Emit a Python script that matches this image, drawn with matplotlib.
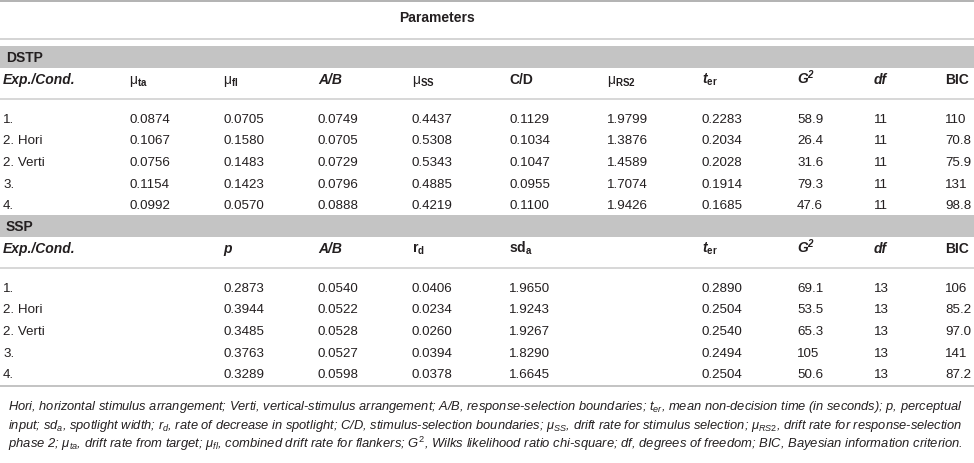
import matplotlib
matplotlib.use("Agg")
import matplotlib.pyplot as plt

plt.rcParams['font.family'] = ['Liberation Sans', 'DejaVu Sans']
plt.rcParams['mathtext.fontset'] = 'custom'
plt.rcParams['mathtext.rm'] = 'Liberation Sans'
plt.rcParams['mathtext.it'] = 'Liberation Sans:italic'
plt.rcParams['mathtext.bf'] = 'Liberation Sans:bold'
plt.rcParams['mathtext.bfit'] = 'Liberation Sans:italic:bold'
plt.rcParams['mathtext.sf'] = 'Liberation Sans'

# --- table data ---
conds = ['1.', '2. Hori', '2. Verti', '3.', '4.']

dstp_mu_ta = ['0.0874', '0.1067', '0.0756', '0.1154', '0.0992']
dstp_mu_fl = ['0.0705', '0.1580', '0.1483', '0.1423', '0.0570']
dstp_ab = ['0.0749', '0.0705', '0.0729', '0.0796', '0.0888']
dstp_mu_ss = ['0.4437', '0.5308', '0.5343', '0.4885', '0.4219']
dstp_cd = ['0.1129', '0.1034', '0.1047', '0.0955', '0.1100']
dstp_mu_rs2 = ['1.9799', '1.3876', '1.4589', '1.7074', '1.9426']
dstp_ter = ['0.2283', '0.2034', '0.2028', '0.1914', '0.1685']
dstp_g2 = ['58.9', '26.4', '31.6', '79.3', '47.6']
dstp_df = ['11', '11', '11', '11', '11']
dstp_bic = ['110', '70.8', '75.9', '131', '98.8']

ssp_p = ['0.2873', '0.3944', '0.3485', '0.3763', '0.3289']
ssp_ab = ['0.0540', '0.0522', '0.0528', '0.0527', '0.0598']
ssp_rd = ['0.0406', '0.0234', '0.0260', '0.0394', '0.0378']
ssp_sda = ['1.9650', '1.9243', '1.9267', '1.8290', '1.6645']
ssp_ter = ['0.2890', '0.2504', '0.2540', '0.2494', '0.2504']
ssp_g2 = ['69.1', '53.5', '65.3', '105', '50.6']
ssp_df = ['13', '13', '13', '13', '13']
ssp_bic = ['106', '85.2', '97.0', '141', '87.2']

# header label, weight, style
dstp_headers = [
    ('Exp./Cond.', 'bold', 'italic'),
    (r'μ$_{\mathbf{ta}}$', 'normal', 'normal'),
    (r'μ$_{\mathbf{fl}}$', 'normal', 'normal'),
    ('A/B', 'bold', 'italic'),
    (r'μ$_{\mathbf{SS}}$', 'normal', 'normal'),
    ('C/D', 'bold', 'normal'),
    (r'μ$_{\mathbf{RS2}}$', 'normal', 'normal'),
    (r'$\mathbfit{t}_{\mathbf{er}}$', 'bold', 'normal'),
    (r'$\mathbfit{G}^{\mathbfit{2}}$', 'bold', 'normal'),
    ('df', 'bold', 'italic'),
    ('BIC', 'bold', 'normal'),
]
ssp_headers = [
    ('Exp./Cond.', 'bold', 'italic'),
    ('p', 'bold', 'italic'),
    ('A/B', 'bold', 'italic'),
    (r'r$_{\mathbf{d}}$', 'bold', 'normal'),
    (r'sd$_{\mathbf{a}}$', 'bold', 'normal'),
    (r'$\mathbfit{t}_{\mathbf{er}}$', 'bold', 'normal'),
    (r'$\mathbfit{G}^{\mathbfit{2}}$', 'bold', 'normal'),
    ('df', 'bold', 'italic'),
    ('BIC', 'bold', 'normal'),
]

dstp_cols = [conds, dstp_mu_ta, dstp_mu_fl, dstp_ab, dstp_mu_ss, dstp_cd,
             dstp_mu_rs2, dstp_ter, dstp_g2, dstp_df, dstp_bic]
ssp_cols = [conds, ssp_p, ssp_ab, ssp_rd, ssp_sda, ssp_ter, ssp_g2, ssp_df, ssp_bic]

footnote = [
    r'Hori, horizontal stimulus arrangement; Verti, vertical-stimulus arrangement; A/B, response-selection boundaries; $t_{er}$, mean non-decision time (in seconds); p, perceptual',
    r'input; sd$_{a}$, spotlight width; r$_{d}$, rate of decrease in spotlight; C/D, stimulus-selection boundaries; μ$_{SS}$, drift rate for stimulus selection; μ$_{RS2}$, drift rate for response-selection',
    r'phase 2; μ$_{ta}$, drift rate from target; μ$_{fl}$, combined drift rate for flankers; $G^2$, Wilks likelihood ratio chi-square; df, degrees of freedom; BIC, Bayesian information criterion.',
]

# --- layout (pixel units) ---
W, H = 974, 463
ink = '#231f20'
band = '#c4c4c4'
dstp_x = [3, 129, 223, 318, 412, 509, 607, 702, 797, 874, 945]
ssp_x = [3, 223, 318, 412, 509, 702, 797, 874, 945]
row_h = 21.6
off = 4.8  # center -> baseline

fig = plt.figure(figsize=(W / 100, H / 100), dpi=100)
ax = fig.add_axes([0, 0, 1, 1])
ax.set_xlim(0, W)
ax.set_ylim(H, 0)
ax.axis('off')


def hline(y, color, px):
    ax.axhline(y, color=color, lw=px * 0.72)


hline(1, '#b4b4b4', 2)
ax.text(437, 17 + off, 'Parameters', fontsize=10, fontweight='bold', color=ink,
        ha='center', va='baseline')
hline(38.5, '#c8c8c8', 1.5)


def block(name, top, headers, cols, xs):
    ax.axhspan(top, top + 22, color=band, lw=0)
    ax.text(6, top + 11 + off, name, fontsize=10, fontweight='bold', color=ink,
            va='baseline')
    hy = top + 33
    for (lab, wt, st), x in zip(headers, xs):
        ax.text(x, hy + off, lab, fontsize=10, fontweight=wt, fontstyle=st,
                color=ink, va='baseline')
    hline(hy + 19.5, '#cccccc', 1.5)
    for col, x in zip(cols, xs):
        for i, v in enumerate(col):
            ax.text(x, hy + 39 + i * row_h + off, v, fontsize=9.6, color=ink,
                    va='baseline')


block('DSTP', 46, dstp_headers, dstp_cols, dstp_x)
block('SSP', 215, ssp_headers, ssp_cols, ssp_x)
hline(386, '#c4c4c4', 2)

# footnote, each line stretched to the full width
fig.canvas.draw()
r = fig.canvas.get_renderer()
for i, line in enumerate(footnote):
    t = ax.text(8, 405 + i * 19 + off, line, fontsize=9,
                family=['Liberation Sans Narrow', 'Liberation Sans'],
                fontstyle='italic', color=ink, va='baseline')
    w = t.get_window_extent(r).width
    t.set_fontsize(9 * 958 / w)

fig.savefig('out.png', dpi=100)
